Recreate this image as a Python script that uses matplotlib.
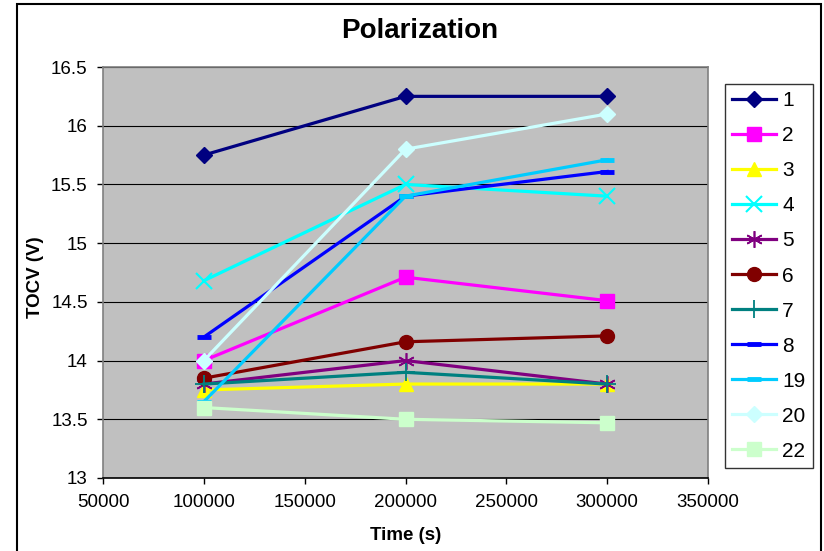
import matplotlib
matplotlib.use("Agg")
import matplotlib.pyplot as plt
from matplotlib.patches import Rectangle
from matplotlib.ticker import FuncFormatter, MultipleLocator

plt.rcParams['font.family'] = ['Liberation Sans', 'DejaVu Sans']

time_s = [100000, 200000, 300000]
labels = ['1', '2', '3', '4', '5', '6', '7', '8', '19', '20', '22']
tocv = {
    '1':  [15.75, 16.25, 16.25],
    '2':  [14.00, 14.71, 14.51],
    '3':  [13.75, 13.80, 13.80],
    '4':  [14.68, 15.50, 15.40],
    '5':  [13.80, 14.00, 13.80],
    '6':  [13.85, 14.16, 14.21],
    '7':  [13.80, 13.90, 13.80],
    '8':  [14.20, 15.40, 15.61],
    '19': [13.65, 15.40, 15.71],
    '20': [14.00, 15.80, 16.10],
    '22': [13.60, 13.50, 13.47],
}

# colour, marker, marker size, marker edge width
styles = {
    '1':  ('#000080', 'D', 8.5, 1),
    '2':  ('#FF00FF', 's', 10, 1),
    '3':  ('#FFFF00', '^', 10, 1),
    '4':  ('#00FFFF', 'x', 11, 1.5),
    '5':  ('#800080', (6, 2, 0), 12, 1.2),
    '6':  ('#800000', 'o', 10, 1),
    '7':  ('#008080', '+', 13, 1.3),
    '8':  ('#0000FF', '_', 10, 3.5),
    '19': ('#00CCFF', '_', 10, 3.5),
    '20': ('#CCFFFF', 'D', 8.5, 1),
    '22': ('#CCFFCC', 's', 10, 1),
}

W, H = 824, 551
fig = plt.figure(figsize=(W / 100, H / 100), dpi=100)
ax = fig.add_axes([103 / W, 1 - 478 / H, (708 - 103) / W, (478 - 67) / H])
ax.set_facecolor('#C0C0C0')

# chart frame
fig.patches.append(Rectangle((17 / W, -0.05), (821 - 17) / W, 1.05 - 4.5 / H,
                             transform=fig.transFigure, fill=False,
                             edgecolor='black', linewidth=1.5, clip_on=False))

for name in labels:
    color, marker, ms, mew = styles[name]
    ax.plot(time_s, tocv[name], color=color, linewidth=2.3, marker=marker,
            markersize=ms, markerfacecolor=color, markeredgecolor=color,
            markeredgewidth=mew, label=name, clip_on=False)

ax.set_xlim(50000, 350000)
ax.set_ylim(13, 16.5)
ax.xaxis.set_major_locator(MultipleLocator(50000))
ax.yaxis.set_major_locator(MultipleLocator(0.5))
ax.yaxis.set_major_formatter(FuncFormatter(lambda v, p: '%g' % v))
ax.grid(axis='y', color='black', linewidth=0.8)
ax.set_axisbelow(True)

for side in ['top', 'right', 'left']:
    ax.spines[side].set_color('#808080')
ax.spines['bottom'].set_color('black')
for sp in ax.spines.values():
    sp.set_linewidth(1.2)

ax.tick_params(direction='out', length=4.5, width=1, colors='black',
               labelsize=13.5)
ax.tick_params(axis='x', pad=7)
ax.tick_params(axis='y', pad=6.5)

fig.text(420 / W, 1 - 31 / H, 'Polarization', ha='center', va='center',
         fontsize=20, fontweight='bold')
fig.text(406 / W, 1 - 535 / H, 'Time (s)', ha='center', va='center',
         fontsize=13.5, fontweight='bold')
fig.text(35 / W, 1 - 277 / H, 'TOCV (V)', ha='center', va='center',
         rotation=90, fontsize=13.5, fontweight='bold')

leg = fig.legend(loc='upper left', bbox_to_anchor=(725 / W, 1 - 84 / H),
                 bbox_transform=fig.transFigure, borderaxespad=0,
                 fontsize=15, frameon=True, fancybox=False, edgecolor='black',
                 handlelength=2.1, handletextpad=0.3, labelspacing=0.77,
                 borderpad=0.35)
leg.get_frame().set_linewidth(1)

fig.savefig('out.png', dpi=100)
